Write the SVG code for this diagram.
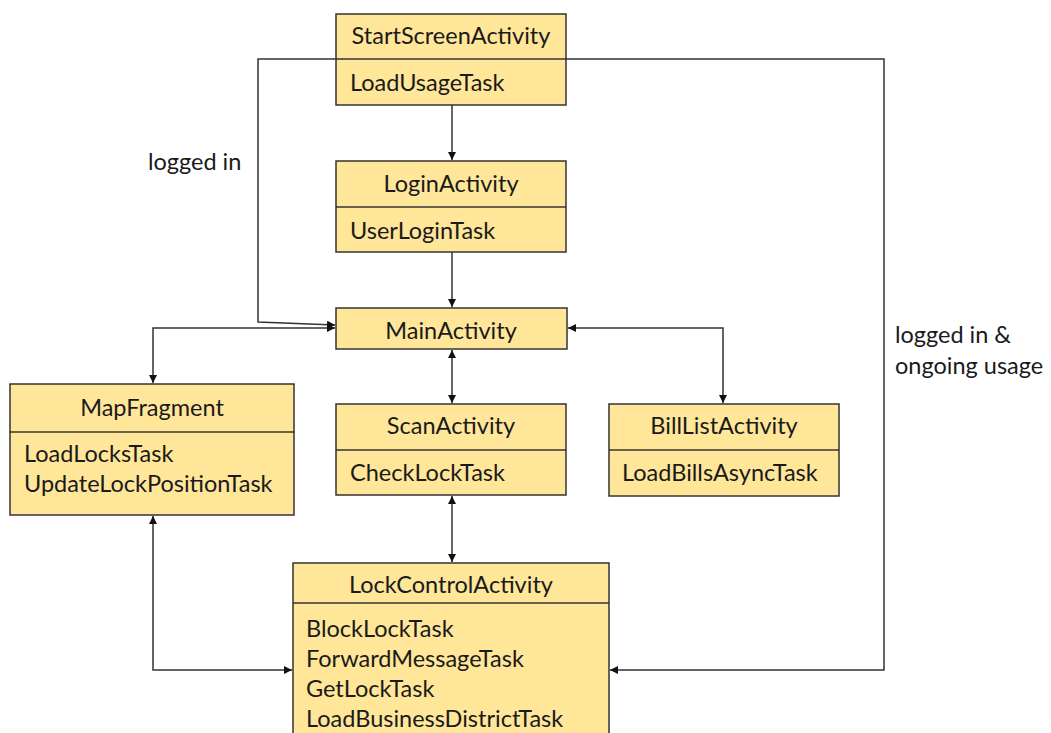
<svg xmlns="http://www.w3.org/2000/svg" width="1051" height="733" viewBox="0 0 1051 733">
  <style>
    .box { fill: #FFE699; stroke: #333; stroke-width: 1.5; }
    .div { stroke: #333; stroke-width: 1.5; }
    .t { font-family: Lato, "Open Sans", sans-serif; font-size: 23.5px; fill: #1a1a1a; }
    .c { text-anchor: middle; }
    .edge { fill: none; stroke: #333; stroke-width: 1.5; }
  </style>
  <defs>
    <marker id="arr" viewBox="0 0 10 10" refX="10" refY="5" markerWidth="8" markerHeight="8" orient="auto-start-reverse" markerUnits="userSpaceOnUse">
      <path d="M0,0 L10,5 L0,10 z" fill="#111"/>
    </marker>
  </defs>
  <rect width="1051" height="733" fill="#fff"/>

  <g id="connectors">
    <!-- StartScreen -> Login -->
    <path class="edge" d="M452,105 L452,160" marker-end="url(#arr)"/>
    <!-- Login -> Main -->
    <path class="edge" d="M452,252 L452,307" marker-end="url(#arr)"/>
    <!-- StartScreen -> Main (logged in) -->
    <path class="edge" d="M336,59 L258,59 L258,322 L335,325" marker-end="url(#arr)"/>
    <!-- Main <-> MapFragment -->
    <path class="edge" d="M335,328 L153,328 L153,383" marker-start="url(#arr)" marker-end="url(#arr)"/>
    <!-- Main <-> BillList -->
    <path class="edge" d="M568,328 L723,328 L723,403" marker-start="url(#arr)" marker-end="url(#arr)"/>
    <!-- Main <-> Scan -->
    <path class="edge" d="M452,350 L452,403" marker-start="url(#arr)" marker-end="url(#arr)"/>
    <!-- Scan <-> LockControl -->
    <path class="edge" d="M452,496 L452,562" marker-start="url(#arr)" marker-end="url(#arr)"/>
    <!-- MapFragment <-> LockControl -->
    <path class="edge" d="M153,516 L153,670 L292,670" marker-start="url(#arr)" marker-end="url(#arr)"/>
    <!-- StartScreen -> LockControl (logged in & ongoing usage) -->
    <path class="edge" d="M566,59 L884,59 L884,670 L610,670" marker-end="url(#arr)"/>
    <text class="t" x="148" y="170">logged in</text>
    <text class="t" x="895" y="343">logged in &amp;</text>
    <text class="t" x="895" y="374">ongoing usage</text>
  </g>

  <g id="startScreen">
    <rect class="box" x="336" y="14" width="230" height="91"/>
    <line class="div" x1="336" y1="59" x2="566" y2="59"/>
    <text class="t c" x="451" y="44">StartScreenActivity</text>
    <text class="t" x="350" y="91">LoadUsageTask</text>
  </g>

  <g id="login">
    <rect class="box" x="336" y="161" width="230" height="91"/>
    <line class="div" x1="336" y1="207" x2="566" y2="207"/>
    <text class="t c" x="451" y="192">LoginActivity</text>
    <text class="t" x="350" y="239">UserLoginTask</text>
  </g>

  <g id="main">
    <rect class="box" x="336" y="308" width="231" height="41"/>
    <text class="t c" x="451" y="339">MainActivity</text>
  </g>

  <g id="mapFragment">
    <rect class="box" x="10" y="384" width="284" height="131"/>
    <line class="div" x1="10" y1="432" x2="294" y2="432"/>
    <text class="t c" x="152" y="416">MapFragment</text>
    <text class="t" x="24" y="462">LoadLocksTask</text>
    <text class="t" x="24" y="492">UpdateLockPositionTask</text>
  </g>

  <g id="scan">
    <rect class="box" x="336" y="404" width="230" height="91"/>
    <line class="div" x1="336" y1="450" x2="566" y2="450"/>
    <text class="t c" x="451" y="434">ScanActivity</text>
    <text class="t" x="350" y="481">CheckLockTask</text>
  </g>

  <g id="billList">
    <rect class="box" x="609" y="404" width="230" height="92"/>
    <line class="div" x1="609" y1="450" x2="839" y2="450"/>
    <text class="t c" x="724" y="434">BillListActivity</text>
    <text class="t" x="622" y="481">LoadBillsAsyncTask</text>
  </g>

  <g id="lockControl">
    <rect class="box" x="293" y="563" width="316" height="185"/>
    <line class="div" x1="293" y1="603" x2="609" y2="603"/>
    <text class="t c" x="451" y="593">LockControlActivity</text>
    <text class="t" x="306" y="637">BlockLockTask</text>
    <text class="t" x="306" y="667">ForwardMessageTask</text>
    <text class="t" x="306" y="697">GetLockTask</text>
    <text class="t" x="306" y="727">LoadBusinessDistrictTask</text>
  </g>
</svg>
